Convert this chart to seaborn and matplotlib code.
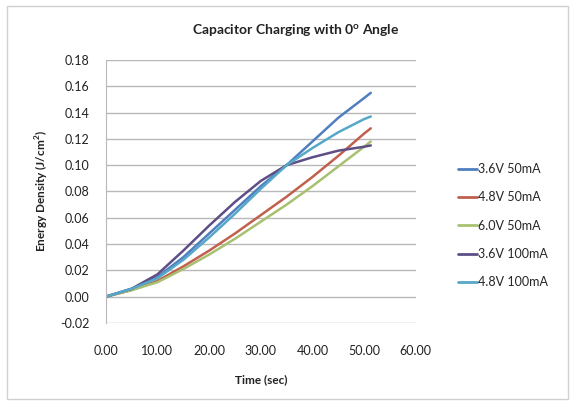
import matplotlib
matplotlib.use("Agg")
import matplotlib.pyplot as plt
import seaborn as sns
import pandas as pd
from matplotlib.patches import Rectangle

time_sec = [0, 5, 10, 15, 20, 25, 30, 35, 40, 45, 50, 51.3]
series_names = ["3.6V 50mA", "4.8V 50mA", "6.0V 50mA", "3.6V 100mA", "4.8V 100mA"]
v36_50 = [0, 0.006, 0.015, 0.030, 0.048, 0.066, 0.084, 0.100, 0.118, 0.136, 0.151, 0.155]
v48_50 = [0, 0.005, 0.012, 0.023, 0.035, 0.048, 0.062, 0.076, 0.091, 0.107, 0.124, 0.128]
v60_50 = [0, 0.005, 0.011, 0.021, 0.032, 0.044, 0.057, 0.070, 0.084, 0.099, 0.114, 0.118]
v36_100 = [0, 0.006, 0.017, 0.035, 0.054, 0.072, 0.088, 0.100, 0.106, 0.111, 0.114, 0.115]
v48_100 = [0, 0.006, 0.014, 0.028, 0.045, 0.063, 0.082, 0.100, 0.113, 0.125, 0.135, 0.137]
colors = ["#4F7FC0", "#C0604D", "#A8C070", "#5E4E86", "#55A8C8"]

rows = []
for name, vals in zip(series_names, [v36_50, v48_50, v60_50, v36_100, v48_100]):
    for t, v in zip(time_sec, vals):
        rows.append({"Time": t, "Energy": v, "Series": name})
df = pd.DataFrame(rows)

sns.set_style("white")
plt.rcParams["font.family"] = ["Lato", "DejaVu Sans"]

fig = plt.figure(figsize=(5.75, 4.05), dpi=100)
ax = fig.add_axes([0.184, 0.2025, 0.539, 0.6495])

sns.lineplot(data=df, x="Time", y="Energy", hue="Series", hue_order=series_names,
             palette=colors, linewidth=1.8, ax=ax, sort=False)

ax.set_xlim(0, 60)
ax.set_ylim(-0.02, 0.18)
ax.set_xticks([0, 10, 20, 30, 40, 50, 60])
ax.set_xticklabels([f"{v:.2f}" for v in [0, 10, 20, 30, 40, 50, 60]])
yt = [-0.02, 0, 0.02, 0.04, 0.06, 0.08, 0.10, 0.12, 0.14, 0.16, 0.18]
ax.set_yticks(yt)
ax.set_yticklabels([f"{v:.2f}" for v in yt])
ax.grid(axis="y", color="#B8B8B8", linewidth=1.0)
ax.set_axisbelow(True)
for s in ["top", "right", "bottom"]:
    ax.spines[s].set_visible(False)
ax.spines["left"].set_color("#B8B8B8")
ax.tick_params(axis="both", length=0, labelsize=9, colors="#222222")
ax.tick_params(axis="y", pad=12)
ax.tick_params(axis="x", pad=16)

ax.set_xlabel("Time (sec)", fontsize=8.5, fontweight="bold", labelpad=12, color="#222222")
ax.set_ylabel("Energy Density (J/cm$^\\mathregular{2}$)", fontsize=8.5, fontweight="bold",
              labelpad=6, color="#222222")
fig.text(0.515, 0.925, "Capacitor Charging with 0$^\\mathregular{o}$ Angle", ha="center",
         va="center", fontsize=10, fontweight="bold", color="#222222")

leg = ax.legend(loc="center left", bbox_to_anchor=(1.10, 0.37), frameon=False,
                fontsize=9, handlelength=1.5, handletextpad=0.1, labelspacing=1.3)
for h in leg.get_lines():
    h.set_linewidth(2.0)

fig.patches.append(Rectangle((0.012, 0.015), 0.975, 0.97, transform=fig.transFigure,
                             fill=False, edgecolor="#D0D0D0", linewidth=1.0))

fig.savefig("out.png", dpi=100)
